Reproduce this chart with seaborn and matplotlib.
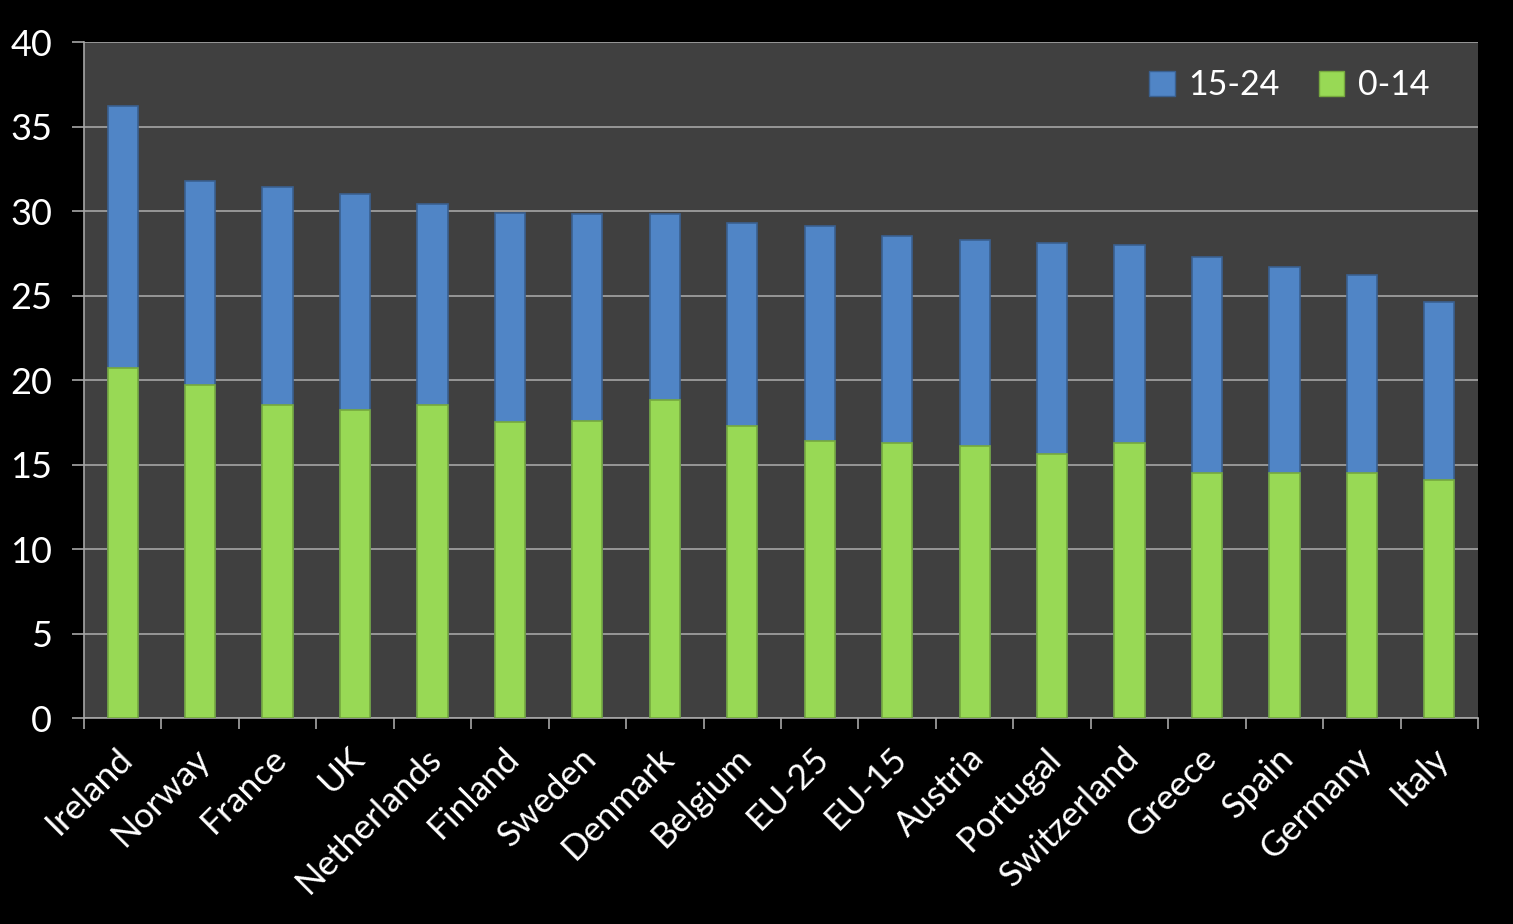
import matplotlib
matplotlib.use("Agg")
import matplotlib.pyplot as plt
import matplotlib.transforms as mtransforms
import seaborn as sns
import numpy as np
from matplotlib.patches import Patch

# Data
countries = ["Ireland", "Norway", "France", "UK", "Netherlands", "Finland", "Sweden",
             "Denmark", "Belgium", "EU-25", "EU-15", "Austria", "Portugal",
             "Switzerland", "Greece", "Spain", "Germany", "Italy"]
age_0_14 = [20.7, 19.7, 18.5, 18.2, 18.5, 17.5, 17.6, 18.8, 17.3, 16.4, 16.3, 16.1,
            15.6, 16.3, 14.5, 14.5, 14.5, 14.1]
total_0_24 = [36.2, 31.8, 31.4, 31.0, 30.4, 29.9, 29.8, 29.8, 29.3, 29.1, 28.5, 28.3,
              28.1, 28.0, 27.3, 26.7, 26.2, 24.6]

blue = "#5085c6"
green = "#98d955"

sns.set_theme(style="dark")
plt.rcParams["font.family"] = ["Lato", "DejaVu Sans"]

fig = plt.figure(figsize=(15.13, 9.24), dpi=100, facecolor="black")
ax = fig.add_axes([0.0555, 0.2229, 0.9214, 0.7316])
ax.set_facecolor("#404040")

# stacked look: total bar (blue) with the 0-14 part (green) drawn over it
sns.barplot(x=countries, y=total_0_24, color=blue, width=0.39, saturation=1,
            edgecolor="#3a6090", linewidth=1.2, ax=ax, zorder=3)
sns.barplot(x=countries, y=age_0_14, color=green, width=0.39, saturation=1,
            edgecolor="#76a83e", linewidth=1.2, ax=ax, zorder=4)

ax.set_ylim(0, 40)
ax.set_xlim(-0.5, len(countries) - 0.5)
ax.set_yticks(np.arange(0, 41, 5))
ax.yaxis.grid(True, color="#a6a6a6", linewidth=1.2, zorder=0)
ax.xaxis.grid(False)
ax.set_axisbelow(True)

for side in ["top", "right"]:
    ax.spines[side].set_visible(False)
for side in ["left", "bottom"]:
    ax.spines[side].set_visible(True)
    ax.spines[side].set_color("#a6a6a6")
    ax.spines[side].set_linewidth(1.2)

ax.tick_params(axis="y", colors="#a6a6a6", labelcolor="white", labelsize=26,
               length=9, width=1.2, left=True, pad=14)
ax.set_xticks(np.arange(len(countries)))
ax.set_xticklabels(countries, rotation=45, ha="right", rotation_mode="anchor",
                   color="white", fontsize=25.5)
ax.tick_params(axis="x", which="major", length=0, pad=17)
# nudge rotated labels slightly left, like the reference
shift = mtransforms.ScaledTranslation(-7 / 100, 0, fig.dpi_scale_trans)
for lab in ax.get_xticklabels():
    lab.set_transform(lab.get_transform() + shift)
ax.set_xticks(np.arange(len(countries) + 1) - 0.5, minor=True)
ax.tick_params(axis="x", which="minor", bottom=True, length=8, width=1.2,
               color="#a6a6a6")
ax.set_xlabel("")
ax.set_ylabel("")

handles = [Patch(facecolor=blue, edgecolor="#3a6090", label="15-24"),
           Patch(facecolor=green, edgecolor="#76a83e", label="0-14")]
leg = ax.legend(handles=handles, loc="upper right", ncol=2, frameon=False,
                fontsize=24.5, handlelength=0.75, handleheight=0.75,
                handletextpad=0.4, columnspacing=1.15,
                bbox_to_anchor=(0.987, 1.005))
for t in leg.get_texts():
    t.set_color("white")

fig.savefig("out.png", dpi=100, facecolor="black")
